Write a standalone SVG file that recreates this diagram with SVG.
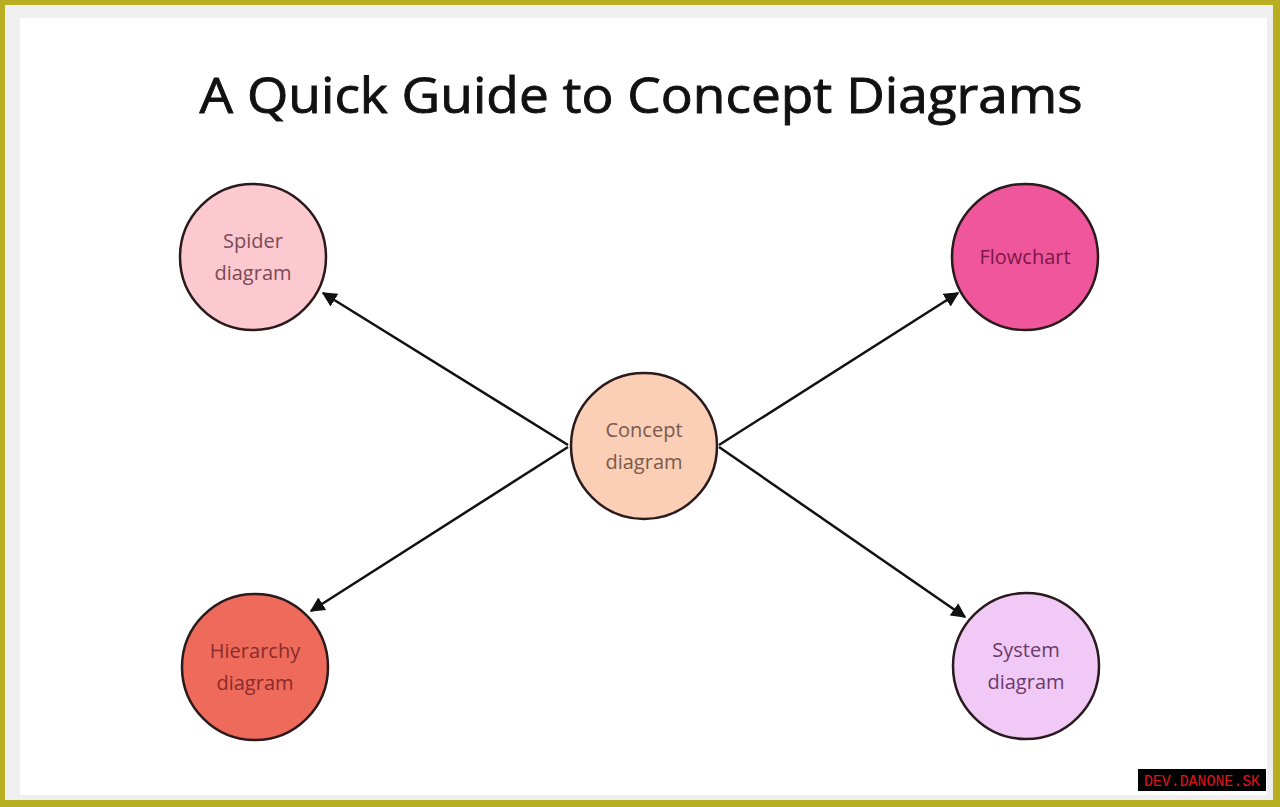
<svg xmlns="http://www.w3.org/2000/svg" width="1280" height="807" viewBox="0 0 1280 807">
  <defs>
    <marker id="arrow" viewBox="0 0 10 10" refX="9" refY="5" markerWidth="6" markerHeight="6" orient="auto" markerUnits="strokeWidth">
      <path d="M0,0 L10,5 L0,10 z" fill="#111111"/>
    </marker>
    <style>
      .node circle { stroke: #2a1a1c; stroke-width: 2.5; }
      .label { font-family: "Open Sans", "Noto Sans", "Liberation Sans", sans-serif; font-size: 20px; text-anchor: middle; }
      .edge { stroke: #111111; stroke-width: 2.5; fill: none; marker-end: url(#arrow); }
    </style>
  </defs>
  <rect x="0" y="0" width="1280" height="807" fill="#b8ae22"/>
  <rect x="5" y="5" width="1268" height="795" fill="#efefef"/>
  <rect x="20" y="18" width="1247" height="777" fill="#ffffff"/>

  <text x="641" y="113" font-family="'Open Sans', 'Noto Sans', 'Liberation Sans', sans-serif" font-size="50" fill="#111111" stroke="#111111" stroke-width="0.9" text-anchor="middle" textLength="883" lengthAdjust="spacingAndGlyphs">A Quick Guide to Concept Diagrams</text>

  <g id="connectors">
    <line class="edge" x1="568" y1="445" x2="323" y2="293"/>
    <line class="edge" x1="568" y1="447" x2="311" y2="611"/>
    <line class="edge" x1="719" y1="445" x2="958" y2="293"/>
    <line class="edge" x1="719" y1="447" x2="965" y2="617"/>
  </g>

  <g id="node-spider" class="node">
    <circle cx="253" cy="257" r="73" fill="#fcc9d1"/>
    <text class="label" x="253" y="248" fill="#7a4a55">Spider</text>
    <text class="label" x="253" y="280" fill="#7a4a55">diagram</text>
  </g>
  <g id="node-flowchart" class="node">
    <circle cx="1025" cy="257" r="73" fill="#f0569b"/>
    <text class="label" x="1025" y="264" fill="#7a1848">Flowchart</text>
  </g>
  <g id="node-concept" class="node">
    <circle cx="644" cy="446" r="73" fill="#fbceb6"/>
    <text class="label" x="644" y="437" fill="#7a5a4c">Concept</text>
    <text class="label" x="644" y="469" fill="#7a5a4c">diagram</text>
  </g>
  <g id="node-hierarchy" class="node">
    <circle cx="255" cy="667" r="73" fill="#ee6a5b"/>
    <text class="label" x="255" y="658" fill="#8a2a2a">Hierarchy</text>
    <text class="label" x="255" y="690" fill="#8a2a2a">diagram</text>
  </g>
  <g id="node-system" class="node">
    <circle cx="1026" cy="666" r="73" fill="#f1c9f6"/>
    <text class="label" x="1026" y="657" fill="#6a3a6a">System</text>
    <text class="label" x="1026" y="689" fill="#6a3a6a">diagram</text>
  </g>

  <rect x="1138" y="769" width="128" height="22" fill="#000000"/>
  <text x="1202" y="786" font-family="'Liberation Mono', 'DejaVu Sans Mono', monospace" font-size="17" fill="#e0141c" text-anchor="middle" textLength="116" lengthAdjust="spacingAndGlyphs">DEV.DANONE.SK</text>
</svg>
